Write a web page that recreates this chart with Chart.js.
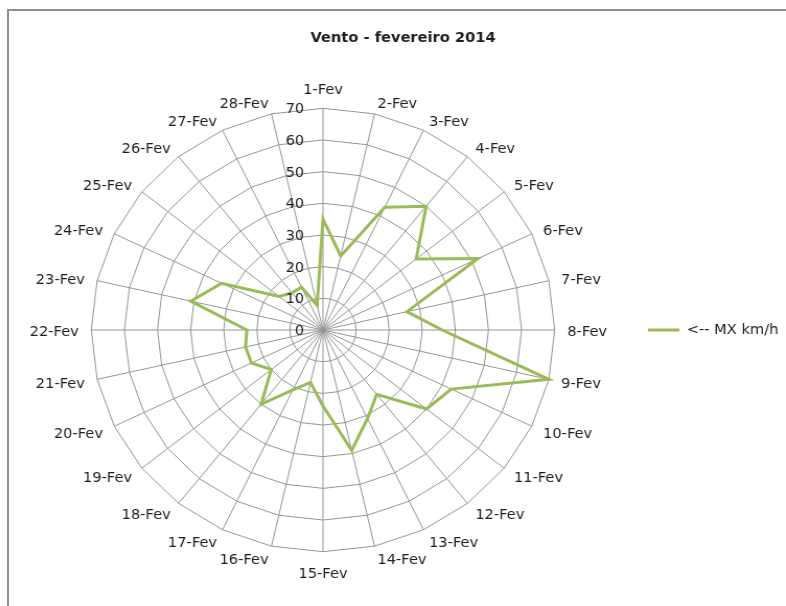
<!DOCTYPE html>
<html>
<head>
<meta charset="utf-8">
<script src="https://cdn.jsdelivr.net/npm/chart.js@4.4.1/dist/chart.umd.min.js"></script>
<style>
  html, body { margin: 0; padding: 0; width: 786px; height: 606px; overflow: hidden; background: #fff; }
  #frame { position: absolute; left: 7px; top: 9px; width: 900px; height: 700px;
           border-left: 2px solid #8f8f8f; border-top: 2px solid #8f8f8f; box-sizing: border-box; }
  #wrap { position: absolute; left: 0; top: 0; width: 786px; height: 606px;
          transform: scaleX(1.045); transform-origin: 323px 0; }
  canvas { display: block; }
</style>
</head>
<body>
<div id="frame"></div>
<div id="wrap"><canvas id="c" width="786" height="606"></canvas></div>
<script>
// ---- data ----
const categories = ['1-Fev','2-Fev','3-Fev','4-Fev','5-Fev','6-Fev','7-Fev','8-Fev','9-Fev','10-Fev',
  '11-Fev','12-Fev','13-Fev','14-Fev','15-Fev','16-Fev','17-Fev','18-Fev','19-Fev','20-Fev',
  '21-Fev','22-Fev','23-Fev','24-Fev','25-Fev','26-Fev','27-Fev','28-Fev'];
const mxKmh = [35,24,43,50,36,52,26,36,70,43,40,26,31,39,24,17,21,30,20,24,24,23,41,34,17,15,15,8];
const tickValues = [0,10,20,30,40,50,60,70];
const seriesLabel = '<-- MX km/h';
const chartTitle = 'Vento - fevereiro 2014';

const TEXT = '#1e1e1e';
const GRID = '#959595';
const GREEN = '#9BBB59';
const FONT = "'DejaVu Sans', sans-serif";
const LABEL_DY = 2.5;   // small vertical nudge of category labels
const TICK_DY = 1.5;    // small vertical nudge of tick labels

Chart.defaults.font.family = FONT;
Chart.defaults.font.size = 14;
Chart.defaults.color = TEXT;

// Tick labels drawn left of the vertical axis, positioned by the radial scale
const tickLabelPlugin = {
  id: 'tickLabelPlugin',
  afterDatasetsDraw(chart) {
    const s = chart.scales.r;
    const ctx = chart.ctx;
    ctx.save();
    ctx.font = "14px " + FONT;
    ctx.fillStyle = TEXT;
    ctx.textAlign = 'right';
    ctx.textBaseline = 'middle';
    tickValues.forEach(v => {
      ctx.fillText(String(v), s.xCenter - 18, s.yCenter - s.getDistanceFromCenterForValue(v) + TICK_DY);
    });
    ctx.restore();
  }
};

// Excel-like category label placement: side labels vertically centred on their spoke point
const labelPlacementPlugin = {
  id: 'labelPlacementPlugin',
  afterLayout(chart) {
    const s = chart.scales.r;
    const items = s._pointLabelItems;
    if (!items) return;
    const pad = s.options.pointLabels.padding;
    items.forEach((it, i) => {
      const deg = Math.round(s.getIndexAngle(i) * 180 / Math.PI) % 360;
      const h = it.bottom - it.top;
      if (deg !== 0 && deg !== 180) {
        const p = s.getPointPosition(i, s.drawingArea + pad);
        it.y = p.y - h / 2;
      }
      it.y += LABEL_DY;
      it.top = it.y;
      it.bottom = it.y + h;
    });
  }
};

new Chart(document.getElementById('c'), {
  type: 'radar',
  data: {
    labels: categories,
    datasets: [{
      label: seriesLabel,
      data: mxKmh,
      borderColor: GREEN,
      backgroundColor: GREEN,
      borderWidth: 3,
      fill: false,
      pointRadius: 0,
      pointHoverRadius: 0,
      tension: 0
    }]
  },
  options: {
    responsive: false,
    animation: false,
    devicePixelRatio: 1,
    layout: { padding: { left: 30.45, right: 17.25, top: 0, bottom: 25.5 } },
    plugins: {
      title: {
        display: true,
        text: chartTitle,
        color: TEXT,
        font: { family: FONT, size: 14, weight: 'bold' },
        padding: { top: 29.6, bottom: 33.1 }
      },
      legend: {
        display: true,
        position: 'right',
        fullSize: false,
        labels: {
          usePointStyle: true,
          pointStyle: 'line',
          pointStyleWidth: 30,
          padding: 26.45,
          color: TEXT,
          font: { family: FONT, size: 14 }
        }
      },
      tooltip: { enabled: false }
    },
    scales: {
      r: {
        min: 0,
        max: 70,
        ticks: { stepSize: 10, display: false },
        grid: { color: GRID, lineWidth: 1, circular: false },
        angleLines: { display: true, color: GRID, lineWidth: 1 },
        pointLabels: { color: TEXT, padding: 12, font: { family: FONT, size: 14 } }
      }
    }
  },
  plugins: [tickLabelPlugin, labelPlacementPlugin]
});
</script>
</body>
</html>
